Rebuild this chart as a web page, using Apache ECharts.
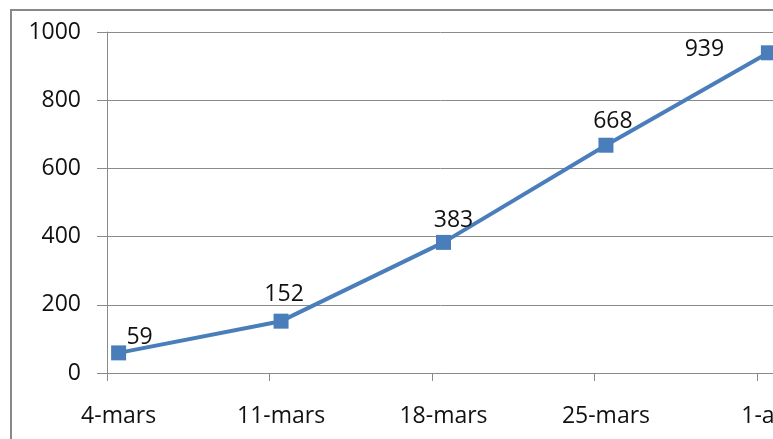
<!DOCTYPE html>
<html>
<head>
<meta charset="utf-8">
<script src="https://cdn.jsdelivr.net/npm/echarts@6/dist/echarts.min.js"></script>
<style>
html,body{margin:0;padding:0;background:#fff;}
#chart{width:773px;height:439px;}
</style>
</head>
<body>
<div id="chart"></div>
<script>
// Data
const categories = ['4-mars', '11-mars', '18-mars', '25-mars', '1-avr'];
const days = [4, 11, 18, 25, 32];            // day number counted from 1 March
const values = [59, 152, 383, 668, 939];
const yMin = 0, yMax = 1000, yStep = 200;

// Label nudges (style only)
const labelOffsets = [[21, -15], [3, -27], [10, -22], [7, -24], [-64, -3]];

const FONT = '"Open Sans", "Noto Sans", sans-serif';
const GRAY = '#8a8a8a';
const BLUE = '#4A7EBB';

const chart = echarts.init(document.getElementById('chart'), null, {renderer: 'canvas'});

const seriesData = values.map((v, i) => ({
  value: [days[i] + 0.5, v],
  label: {offset: labelOffsets[i]}
}));

chart.setOption({
  animation: false,
  backgroundColor: '#fff',
  graphic: [{
    type: 'rect',
    shape: {x: 11, y: 10, width: 900, height: 600},
    style: {fill: 'none', stroke: '#888', lineWidth: 2},
    silent: true
  }],
  grid: {left: 107, top: 32, width: 673, height: 341, containLabel: false, outerBoundsMode: 'none'},
  xAxis: {
    type: 'value',
    min: days[0],
    max: days[0] + 29,
    axisLine: {show: true, lineStyle: {color: GRAY, width: 1}},
    axisTick: {show: true, length: 8, lineStyle: {color: GRAY}, customValues: days},
    axisLabel: {
      customValues: days.map(d => d + 0.5),
      formatter: v => {
        const i = days.findIndex(d => Math.abs(d + 0.5 - v) < 0.01);
        return i >= 0 ? categories[i] : '';
      },
      color: '#111', fontFamily: FONT, fontSize: 23, margin: 32
    },
    splitLine: {show: false}
  },
  yAxis: {
    type: 'value',
    min: yMin, max: yMax, interval: yStep,
    axisLine: {show: true, lineStyle: {color: GRAY, width: 1}},
    axisTick: {show: true, length: 10, lineStyle: {color: GRAY}},
    axisLabel: {color: '#111', fontFamily: FONT, fontSize: 23, margin: 26, formatter: v => String(v)},
    splitLine: {show: true, lineStyle: {color: GRAY, width: 1}}
  },
  series: [{
    type: 'line',
    data: seriesData,
    symbol: 'rect',
    symbolSize: 15,
    lineStyle: {color: BLUE, width: 4},
    itemStyle: {color: BLUE},
    label: {
      show: true,
      position: 'inside',
      color: '#111',
      textBorderWidth: 0,
      fontFamily: FONT,
      fontSize: 23,
      formatter: p => String(p.value[1])
    },
    z: 5
  }]
});
</script>
</body>
</html>
